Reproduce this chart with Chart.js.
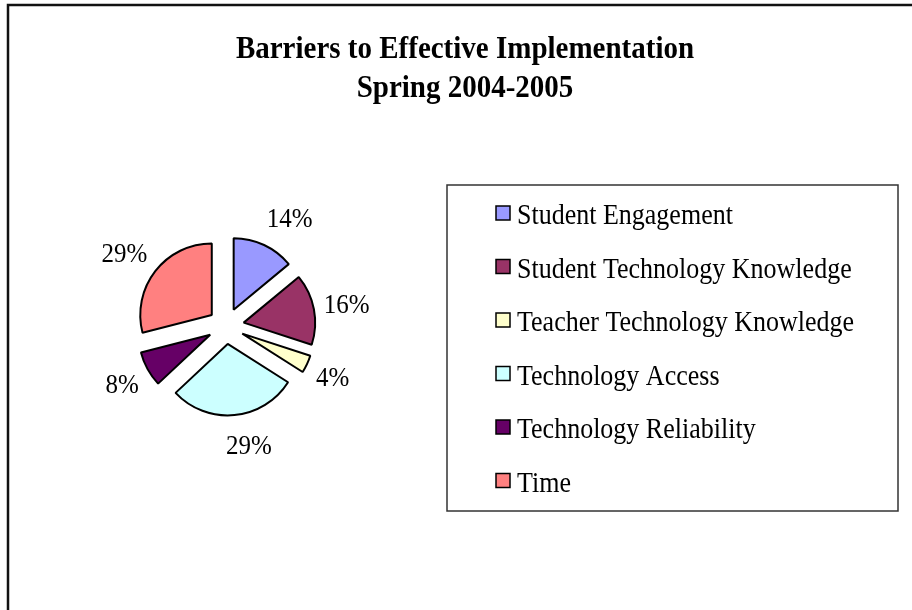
<!DOCTYPE html>
<html>
<head>
<meta charset="utf-8">
<script src="https://cdn.jsdelivr.net/npm/chart.js@4.4.0/dist/chart.umd.min.js"></script>
<style>
  body { margin: 0; background: #fff; }
  canvas { display: block; }
</style>
</head>
<body>
<canvas id="myChart" width="912" height="610"></canvas>
<script>
const titleLines = ["Barriers to Effective Implementation", "Spring 2004-2005"];
const categories = ["Student Engagement", "Student Technology Knowledge", "Teacher Technology Knowledge", "Technology Access", "Technology Reliability", "Time"];
const shares = [14, 16, 4, 29, 8, 29];
const sliceColors = ["#9999FF", "#993366", "#FFFFCC", "#CCFFFF", "#660066", "#FF8080"];

const serif = '"Liberation Serif", "Times New Roman", serif';
const explode = 18;
const stretch = 1.1; // the old export draws its text a bit tall

// pull every slice out along its middle angle (Excel style exploded pie)
const arcDraw = Chart.ArcElement.prototype.draw;
Chart.ArcElement.prototype.draw = function (ctx) {
  const mid = (this.startAngle + this.endAngle) / 2;
  ctx.save();
  ctx.translate(Math.cos(mid) * explode, Math.sin(mid) * explode);
  arcDraw.call(this, ctx);
  ctx.restore();
};

function tallText(c, text, x, baseline) {
  c.save();
  c.translate(x, baseline);
  c.scale(1, stretch);
  c.fillText(text, 0, 0);
  c.restore();
}

const framePlugin = {
  id: 'frame',
  beforeDraw(chart) {
    const c = chart.ctx;
    c.save();
    c.fillStyle = '#fff';
    c.fillRect(0, 0, chart.width, chart.height);
    c.strokeStyle = '#111';
    c.lineWidth = 2.5;
    c.strokeRect(8, 5, chart.width + 20, chart.height + 20);
    c.restore();
  }
};

const titlePlugin = {
  id: 'chartTitle',
  afterDraw(chart) {
    const c = chart.ctx;
    c.save();
    c.font = 'bold 29px ' + serif;
    c.fillStyle = '#000';
    c.textAlign = 'center';
    c.textBaseline = 'alphabetic';
    titleLines.forEach((t, i) => tallText(c, t, 465, 58 + i * 39));
    c.restore();
  }
};

// "outside end" labels: anchor just past the exploded rim, then push the box outwards
const pctPlugin = {
  id: 'pctLabels',
  afterDatasetsDraw(chart) {
    const c = chart.ctx;
    const meta = chart.getDatasetMeta(0);
    const total = shares.reduce((a, b) => a + b, 0);
    c.save();
    c.font = '25px ' + serif;
    c.fillStyle = '#000';
    c.textAlign = 'center';
    c.textBaseline = 'alphabetic';
    meta.data.forEach((arc, i) => {
      const mid = (arc.startAngle + arc.endAngle) / 2;
      const ux = Math.cos(mid), uy = Math.sin(mid);
      const text = Math.round(shares[i] / total * 100) + '%';
      const w = c.measureText(text).width;
      const d = arc.outerRadius + explode + 10;
      const x = arc.x + ux * d + Math.sign(ux) * Math.min(1, 0.5 + Math.abs(ux)) * w / 2;
      const y = arc.y + uy * d + uy * 20;
      tallText(c, text, x, y + 9.5);
    });
    c.restore();
  }
};

const legendPlugin = {
  id: 'boxLegend',
  afterDraw(chart) {
    const c = chart.ctx;
    const box = { left: 447, top: 185, width: 451, height: 326 };
    const step = 53.5;
    const labels = chart.data.labels;
    const colors = chart.data.datasets[0].backgroundColor;
    c.save();
    c.strokeStyle = '#333';
    c.lineWidth = 1.5;
    c.strokeRect(box.left, box.top, box.width, box.height);
    c.font = '26px ' + serif;
    c.textBaseline = 'alphabetic';
    c.textAlign = 'left';
    labels.forEach((lab, i) => {
      const y = box.top + 28 + i * step;
      c.fillStyle = colors[i];
      c.fillRect(box.left + 49, y - 7, 14, 14);
      c.strokeStyle = '#000';
      c.lineWidth = 1.5;
      c.strokeRect(box.left + 49, y - 7, 14, 14);
      c.fillStyle = '#000';
      tallText(c, lab, box.left + 70, y + 11);
    });
    c.restore();
  }
};

const ctx = document.getElementById('myChart').getContext('2d');
new Chart(ctx, {
  type: 'pie',
  data: {
    labels: categories,
    datasets: [{
      data: shares,
      backgroundColor: sliceColors,
      borderColor: '#000',
      borderWidth: 2,
      radius: 71.5
    }]
  },
  options: {
    responsive: false,
    animation: false,
    events: [],
    layout: {
      padding: { left: 8, right: 468, top: 120, bottom: 78 }
    },
    plugins: {
      legend: { display: false },
      title: { display: false },
      tooltip: { enabled: false }
    }
  },
  plugins: [framePlugin, titlePlugin, pctPlugin, legendPlugin]
});
</script>
</body>
</html>
